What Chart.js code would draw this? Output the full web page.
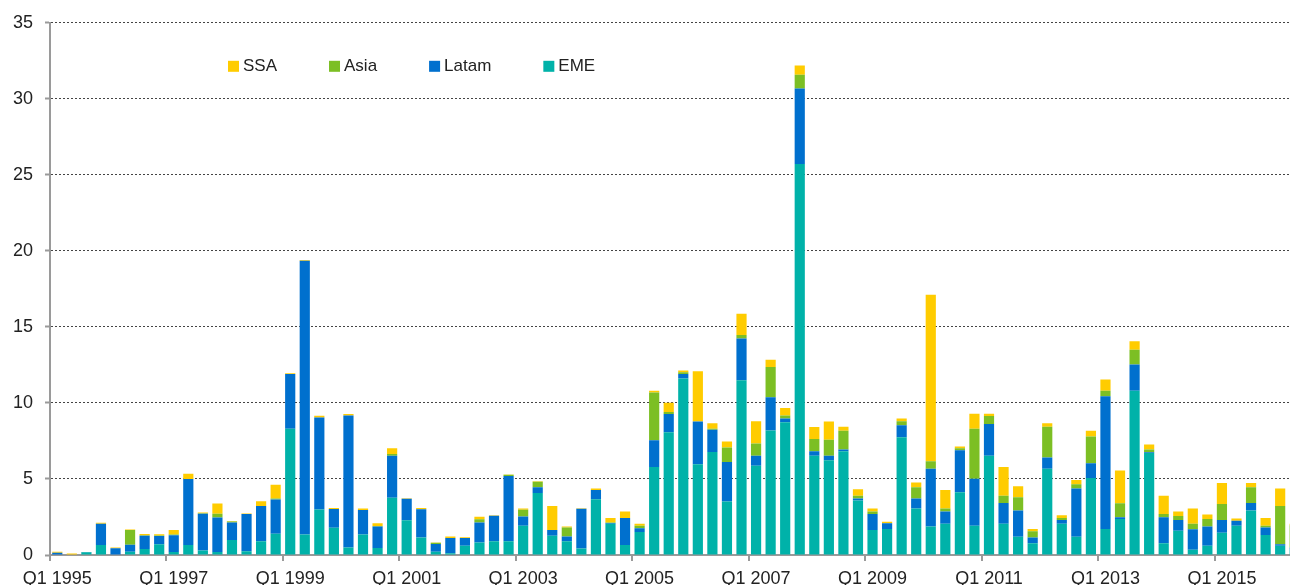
<!DOCTYPE html>
<html>
<head>
<meta charset="utf-8">
<script src="https://cdn.jsdelivr.net/npm/chart.js@4.4.1/dist/chart.umd.min.js"></script>
<style>
html, body { margin: 0; padding: 0; background: #ffffff; overflow: hidden; width: 1290px; height: 585px; }
#wrap { position: absolute; left: 0; top: 0; width: 1302px; height: 585px; }
canvas { display: block; }
</style>
</head>
<body>
<div id="wrap"><canvas id="c" width="1302" height="585"></canvas></div>
<script>
const quarters = [
  'Q1 1995','Q2 1995','Q3 1995','Q4 1995','Q1 1996','Q2 1996','Q3 1996','Q4 1996',
  'Q1 1997','Q2 1997','Q3 1997','Q4 1997','Q1 1998','Q2 1998','Q3 1998','Q4 1998',
  'Q1 1999','Q2 1999','Q3 1999','Q4 1999','Q1 2000','Q2 2000','Q3 2000','Q4 2000',
  'Q1 2001','Q2 2001','Q3 2001','Q4 2001','Q1 2002','Q2 2002','Q3 2002','Q4 2002',
  'Q1 2003','Q2 2003','Q3 2003','Q4 2003','Q1 2004','Q2 2004','Q3 2004','Q4 2004',
  'Q1 2005','Q2 2005','Q3 2005','Q4 2005','Q1 2006','Q2 2006','Q3 2006','Q4 2006',
  'Q1 2007','Q2 2007','Q3 2007','Q4 2007','Q1 2008','Q2 2008','Q3 2008','Q4 2008',
  'Q1 2009','Q2 2009','Q3 2009','Q4 2009','Q1 2010','Q2 2010','Q3 2010','Q4 2010',
  'Q1 2011','Q2 2011','Q3 2011','Q4 2011','Q1 2012','Q2 2012','Q3 2012','Q4 2012',
  'Q1 2013','Q2 2013','Q3 2013','Q4 2013','Q1 2014','Q2 2014','Q3 2014','Q4 2014',
  'Q1 2015','Q2 2015','Q3 2015','Q4 2015','Q1 2016','Q2 2016'
];
const shownLabels = ['Q1 1995','Q1 1997','Q1 1999','Q1 2001','Q1 2003','Q1 2005','Q1 2007','Q1 2009','Q1 2011','Q1 2013','Q1 2015'];
const yTicks = [0, 5, 10, 15, 20, 25, 30, 35];

const eme = [
  0,0.03,0.18,0.65,0,0.22,0.4,0.7,
  0.2,0.66,0.3,0.2,0.98,0.25,0.9,1.4,
  8.3,1.35,3.0,1.8,0.49,1.34,0.46,3.77,
  2.28,1.15,0.22,0.12,0.61,0.83,0.9,0.9,
  1.93,4.08,1.27,0.9,0.42,3.67,2.05,0.66,
  1.52,5.79,8.07,11.61,5.97,6.77,3.52,11.49,
  5.87,8.19,8.73,25.72,6.53,6.23,6.82,3.59,
  1.64,1.71,7.75,3.06,1.88,2.05,4.13,1.93,
  6.53,2.05,1.2,0.78,5.67,2.05,1.2,5.06,
  1.71,2.37,10.81,6.7,0.78,1.59,0.34,0.61,
  1.47,1.93,2.93,1.32,0.61,0.34
];
const latam = [
  0.15,0,0.02,1.4,0.45,0.45,0.87,0.55,
  1.1,4.33,2.42,2.27,1.15,2.45,2.33,2.25,
  3.6,18.0,6.05,1.22,8.68,1.62,1.42,2.76,
  1.42,1.86,0.51,1.0,0.5,1.3,1.68,4.3,
  0.61,0.37,0.37,0.32,2.62,0.61,0.05,1.78,
  0.24,1.76,1.2,0.29,2.81,1.47,2.59,2.74,
  0.66,2.18,0.24,4.96,0.29,0.3,0.12,0.13,
  1.05,0.37,0.78,0.66,3.79,0.81,2.76,3.08,
  2.08,1.37,1.73,0.37,0.74,0.25,3.18,0.98,
  8.73,0.12,1.71,0.05,1.71,0.71,1.35,1.27,
  0.83,0.32,0.49,0.49,0.1,0.15
];
const asia = [
  0,0,0,0,0,0.98,0.03,0.03,
  0.05,0,0.03,0.25,0.07,0,0,0.07,
  0,0,0,0,0,0,0.03,0.12,
  0,0,0.07,0,0,0.22,0,0.07,
  0.44,0.37,0,0.59,0,0,0.03,0,
  0.17,3.13,0.14,0.12,0,0.07,0.96,0.24,
  0.8,2.0,0.2,0.9,0.81,1.05,1.23,0.17,
  0.17,0,0.27,0.73,0.49,0.2,0.13,3.3,
  0.53,0.47,0.86,0.41,2.03,0.14,0.27,1.76,
  0.37,0.91,0.98,0.19,0.2,0.27,0.36,0.49,
  1.05,0,1.03,0.12,2.52,1.47
];
const ssa = [
  0.07,0.07,0,0.07,0.05,0.02,0.08,0.08,
  0.3,0.36,0.05,0.66,0.03,0.03,0.3,0.9,
  0.05,0.05,0.1,0.07,0.1,0.1,0.17,0.37,
  0.03,0.08,0.03,0.1,0.05,0.17,0.04,0.03,
  0.08,0.03,1.59,0.07,0.03,0.1,0.3,0.42,
  0.12,0.13,0.61,0.12,3.3,0.35,0.39,1.4,
  1.47,0.47,0.49,0.62,0.78,1.2,0.27,0.44,
  0.2,0.1,0.17,0.32,10.95,1.22,0.12,0.98,
  0.15,1.9,0.73,0.15,0.22,0.17,0.29,0.37,
  0.73,2.15,0.56,0.32,1.2,0.29,1.01,0.3,
  1.39,0.15,0.29,0.51,1.15,0.1
];

const COLORS = { SSA: '#FFCC00', Asia: '#7CBF24', Latam: '#0070CE', EME: '#00B2A9' };
const legendOrder = ['SSA', 'Asia', 'Latam', 'EME'];

Chart.defaults.font.family = "'Liberation Sans', Arial, Helvetica, sans-serif";
Chart.defaults.font.size = 18;
Chart.defaults.color = '#222';

const legendPlugin = {
  id: 'insideLegend',
  afterDraw(chart) {
    const ctx = chart.ctx;
    const area = chart.chartArea;
    ctx.save();
    ctx.font = "17px 'Liberation Sans', Arial, sans-serif";
    ctx.textBaseline = 'middle';
    ctx.textAlign = 'left';
    let x = area.left + 178;
    const boxTop = area.top + 38;
    const box = 11;
    legendOrder.forEach(name => {
      ctx.fillStyle = COLORS[name];
      ctx.fillRect(x, boxTop, box, box);
      ctx.fillStyle = '#222';
      ctx.fillText(name, x + box + 4, boxTop + box / 2 + 0.5);
      x += box + 4 + ctx.measureText(name).width + 52;
    });
    ctx.restore();
  }
};

function ds(label, data) {
  return {
    label: label,
    data: data,
    backgroundColor: COLORS[label],
    borderWidth: 0,
    barPercentage: 0.7,
    categoryPercentage: 1.0,
    stack: 's'
  };
}

new Chart(document.getElementById('c'), {
  type: 'bar',
  data: {
    labels: quarters,
    datasets: [ds('EME', eme), ds('Latam', latam), ds('Asia', asia), ds('SSA', ssa)]
  },
  options: {
    responsive: false,
    animation: false,
    layout: { padding: { top: 19, right: 0, bottom: 0, left: 0 } },
    plugins: {
      legend: { display: false },
      tooltip: { enabled: false }
    },
    scales: {
      x: {
        stacked: true,
        offset: true,
        grid: {
          offset: true,
          drawOnChartArea: false,
          drawTicks: true,
          tickLength: 6,
          lineWidth: 2,
          color: (c) => (c.index % 8 === 0 ? '#9a9a9a' : 'rgba(0,0,0,0)'),
          tickColor: (c) => (c.index % 8 === 0 ? '#9a9a9a' : 'rgba(0,0,0,0)')
        },
        border: { display: true, color: '#9a9a9a', width: 2 },
        ticks: {
          autoSkip: false,
          maxRotation: 0,
          minRotation: 0,
          padding: 7,
          color: '#222',
          font: { size: 18 },
          callback: function (v, i) {
            const lab = this.getLabelForValue(v);
            return shownLabels.includes(lab) ? lab : '';
          }
        },
        afterFit: (s) => { s.height = 30; }
      },
      y: {
        stacked: true,
        min: 0,
        max: 35,
        afterBuildTicks: (s) => { s.ticks = yTicks.map(v => ({ value: v })); },
        grid: {
          color: '#444',
          lineWidth: 1,
          drawTicks: true,
          tickLength: 5,
          tickColor: '#9a9a9a',
          tickWidth: 2
        },
        border: { display: true, color: '#9a9a9a', width: 2, dash: [2, 2] },
        ticks: {
          padding: 12,
          color: '#222',
          font: { size: 18 }
        },
        afterFit: (s) => { s.width = 50; }
      }
    }
  },
  plugins: [legendPlugin]
});
</script>
</body>
</html>
